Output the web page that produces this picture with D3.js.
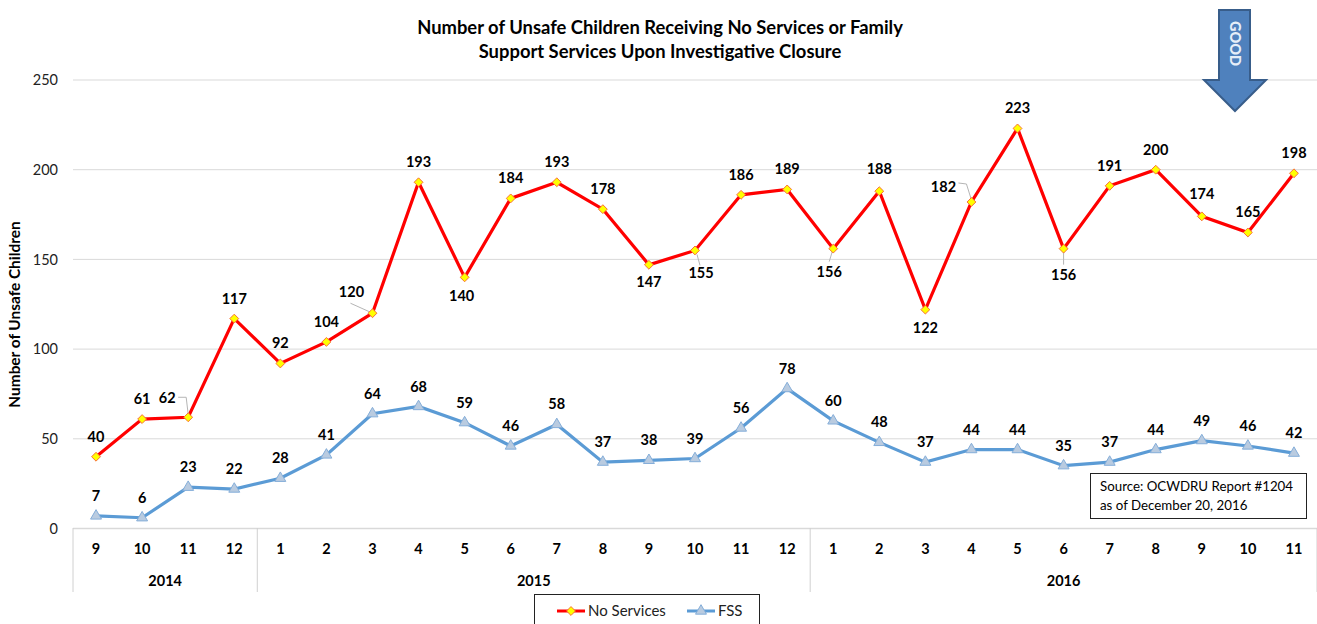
<!DOCTYPE html>
<html>
<head>
  <meta charset="utf-8">
  <title>Number of Unsafe Children</title>
  <script src="https://d3js.org/d3.v7.min.js"></script>
  <style>
    html, body { margin: 0; background: #fff; }
    svg { display: block; }
    text { font-family: Lato, "Open Sans", sans-serif; fill: #000; }
    .value, .month, .year { font-size: 14.5px; font-weight: 700; }
    .ytick text { font-size: 14.5px; fill: #222; font-weight: 400; }
  </style>
</head>
<body>
<svg id="chart" width="1317" height="624"></svg>
<script>
  const months = [9,10,11,12,1,2,3,4,5,6,7,8,9,10,11,12,1,2,3,4,5,6,7,8,9,10,11];
  const years = ["2014", "2015", "2016"];
  const yearLengths = [4, 12, 11];
  const noServices = [40,61,62,117,92,104,120,193,140,184,193,178,147,155,186,189,156,188,122,182,223,156,191,200,174,165,198];
  const fss = [7,6,23,22,28,41,64,68,59,46,58,37,38,39,56,78,60,48,37,44,44,35,37,44,49,46,42];
  const yTicks = [0, 50, 100, 150, 200, 250];

  // labels that don't sit straight above their point: index -> [dx, dy]
  const redLabelOffsets = { 2: [-21, -19], 6: [-21, -21], 8: [-3, 19], 12: [0, 17], 13: [6, 23], 16: [-4, 23], 17: [0, -22], 18: [0, 18], 19: [-28, -15], 21: [0, 26], 24: [0, -22] };
  // thin leader lines, relative to the point
  const redLeaders = {
    2: [[-10, -20], [-2, -20], [0, -3]],
    6: [[-22, -10], [-2, -1]],
    13: [[2, 4], [5, 15]],
    16: [[-4, 13], [-1, 3]],
    19: [[-13, -19], [-5, -18], [0, -2]],
    21: [[0, 16], [0, 3]]
  };

  const svg = d3.select("#chart");
  const index = d3.range(months.length);

  const x = d3.scaleBand().domain(index).range([73, 1317]);
  const y = d3.scaleLinear().domain([0, 250]).range([528.5, 80]);
  const cx = i => x(i) + x.bandwidth() / 2;

  // title
  svg.append("text").attr("x", 660).attr("y", 34).attr("text-anchor", "middle")
    .style("font-size", "18.4px").style("font-weight", 700).text("Number of Unsafe Children Receiving No Services or Family");
  svg.append("text").attr("x", 660).attr("y", 58).attr("text-anchor", "middle")
    .style("font-size", "18.4px").style("font-weight", 700).text("Support Services Upon Investigative Closure");

  // y axis + gridlines
  const yAxis = svg.append("g").attr("class", "ytick").attr("transform", "translate(73,0)")
    .call(d3.axisLeft(y).tickValues(yTicks).tickSize(0).tickPadding(15));
  yAxis.select(".domain").remove();
  svg.append("g").selectAll("line").data(yTicks.filter(d => d > 0)).join("line")
    .attr("x1", 73).attr("x2", 1317).attr("y1", y).attr("y2", y)
    .attr("stroke", "#d9d9d9").attr("stroke-width", 1);

  svg.append("text").attr("transform", "translate(20,314.5) rotate(-90)").attr("text-anchor", "middle")
    .style("font-size", "15.4px").style("font-weight", 700).text("Number of Unsafe Children");

  // x axis, months
  const xAxis = svg.append("g").attr("class", "month").attr("transform", "translate(0,528.5)")
    .call(d3.axisBottom(x).tickSize(0).tickPadding(15).tickFormat(i => months[i]));
  xAxis.select(".domain").remove();
  xAxis.selectAll("text").style("font-size", "14.5px").style("font-weight", 700).attr("fill", "#000");
  svg.append("line").attr("x1", 73).attr("x2", 1317).attr("y1", 528.5).attr("y2", 528.5)
    .attr("stroke", "#d9d9d9").attr("stroke-width", 1.5);

  // x axis, years
  const yearStarts = d3.cumsum([0].concat(yearLengths));
  svg.append("g").selectAll("line").data(yearStarts).join("line")
    .attr("x1", d => d < months.length ? x(d) : 1317)
    .attr("x2", d => d < months.length ? x(d) : 1317)
    .attr("y1", 528).attr("y2", 592)
    .attr("stroke", "#d0d0d0");
  svg.append("g").selectAll("text").data(years).join("text")
    .attr("class", "year").attr("text-anchor", "middle").attr("y", 586)
    .attr("x", (d, i) => {
      const a = x(yearStarts[i]);
      const b = yearStarts[i + 1] < months.length ? x(yearStarts[i + 1]) : 1317;
      return (a + b) / 2;
    })
    .text(d => d);

  // lines
  const line = d3.line().x((d, i) => cx(i)).y(d => y(d));
  const red = "#ff0000", blue = "#5b9bd5";
  svg.append("path").datum(fss).attr("d", line).attr("fill", "none").attr("stroke", blue).attr("stroke-width", 3.2);
  svg.append("path").datum(noServices).attr("d", line).attr("fill", "none").attr("stroke", red).attr("stroke-width", 3.2);

  const diamond = d3.symbol().type(d3.symbolDiamond2).size(50);
  const triangle = d3.symbol().type(d3.symbolTriangle).size(52);

  // leaders
  svg.append("g").selectAll("path").data(Object.keys(redLeaders)).join("path")
    .attr("fill", "none").attr("stroke", "#b5b5b5").attr("stroke-width", 1)
    .attr("d", k => d3.line()(redLeaders[k].map(p => [cx(+k) + p[0], y(noServices[k]) + p[1]])));

  // markers
  svg.append("g").selectAll("path").data(fss).join("path")
    .attr("d", triangle).attr("transform", (d, i) => `translate(${cx(i)},${y(d)})`)
    .attr("fill", "#b9cbe0").attr("stroke", "#85aed9").attr("stroke-width", 1);
  svg.append("g").selectAll("path").data(noServices).join("path")
    .attr("d", diamond).attr("transform", (d, i) => `translate(${cx(i)},${y(d)})`)
    .attr("fill", "#ffff00").attr("stroke", "#f8703a").attr("stroke-width", 1);

  // value labels
  svg.append("g").selectAll("text").data(fss).join("text")
    .attr("class", "value").attr("text-anchor", "middle")
    .attr("x", (d, i) => cx(i)).attr("y", d => y(d) - 15).text(d => d);
  svg.append("g").selectAll("text").data(noServices).join("text")
    .attr("class", "value").attr("text-anchor", "middle")
    .attr("x", (d, i) => cx(i) + (redLabelOffsets[i] ? redLabelOffsets[i][0] : 0))
    .attr("y", (d, i) => y(d) + (redLabelOffsets[i] ? redLabelOffsets[i][1] : -20) + 5)
    .text(d => d);

  // GOOD arrow
  svg.append("path")
    .attr("d", d3.line()([[1219, 10], [1250, 10], [1250, 80], [1266, 80], [1235, 111], [1204, 80], [1219, 80]]) + "Z")
    .attr("fill", "#4f81bd").attr("stroke", "#385d8a").attr("stroke-width", 2);
  svg.append("text").attr("transform", "translate(1230,43.5) rotate(90)").attr("text-anchor", "middle")
    .style("font-size", "14.5px").style("font-weight", 900).style("fill", "#e6eef8").text("GOOD");

  // source box
  svg.append("rect").attr("x", 1090.5).attr("y", 473.5).attr("width", 216).attr("height", 45)
    .attr("fill", "#fff").attr("stroke", "#222").attr("stroke-width", 1);
  svg.append("text").attr("x", 1100).attr("y", 491).style("font-size", "13.3px").text("Source: OCWDRU Report #1204");
  svg.append("text").attr("x", 1100).attr("y", 510).style("font-size", "13.3px").text("as of December 20, 2016");

  // legend
  svg.append("rect").attr("x", 534.5).attr("y", 594.5).attr("width", 225).attr("height", 31)
    .attr("fill", "#fff").attr("stroke", "#222").attr("stroke-width", 1);
  const legendY = 611;
  svg.append("line").attr("x1", 557).attr("x2", 585).attr("y1", legendY).attr("y2", legendY).attr("stroke", red).attr("stroke-width", 3);
  svg.append("path").attr("d", diamond).attr("transform", `translate(571,${legendY})`).attr("fill", "#ffff00").attr("stroke", "#f8703a");
  svg.append("text").attr("x", 588).attr("y", legendY + 5).style("font-size", "15px").style("fill", "#222").text("No Services");
  svg.append("line").attr("x1", 687).attr("x2", 715).attr("y1", legendY).attr("y2", legendY).attr("stroke", blue).attr("stroke-width", 3);
  svg.append("path").attr("d", triangle).attr("transform", `translate(701,${legendY})`).attr("fill", "#b9cbe0").attr("stroke", "#85aed9");
  svg.append("text").attr("x", 718).attr("y", legendY + 5).style("font-size", "15px").style("fill", "#222").text("FSS");
</script>
</body>
</html>
